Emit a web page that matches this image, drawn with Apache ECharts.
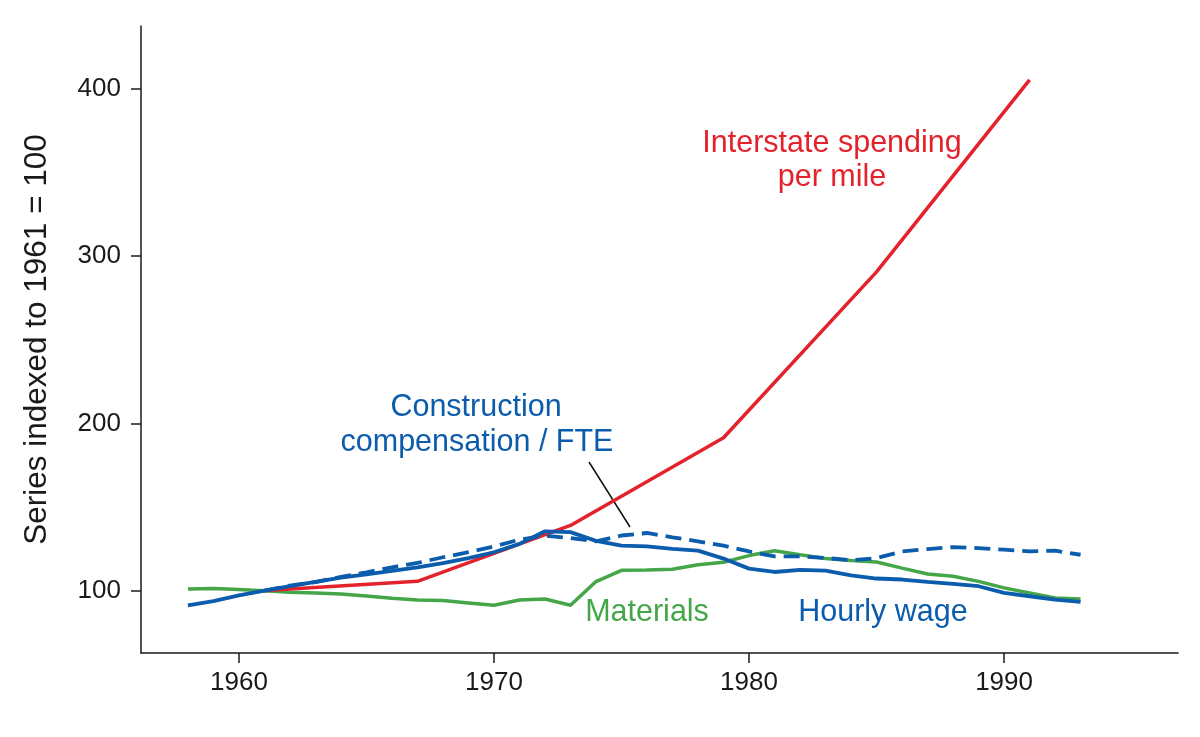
<!DOCTYPE html>
<html>
<head>
<meta charset="utf-8">
<script src="https://cdn.jsdelivr.net/npm/echarts@6/dist/echarts.min.js"></script>
<style>html,body{margin:0;padding:0;background:#fff;}#c{width:1200px;height:737px;}</style>
</head>
<body>
<div id="c"></div>
<script>
const years = [1958,1959,1960,1961,1962,1963,1964,1965,1966,1967,1968,1969,1970,1971,1972,1973,1974,1975,1976,1977,1978,1979,1980,1981,1982,1983,1984,1985,1986,1987,1988,1989,1990,1991,1992,1993];
const hourlyWage = [91.2,93.8,97.2,100,102.8,105.3,107.8,109.8,111.8,114,116.5,119.5,123,128,135.5,135,129.8,127,126.5,125,124,119.2,113.2,111.2,112.5,112,109.2,107.3,106.7,105.3,104.1,102.7,98.7,96.7,94.7,93.3];
const materials = [101,101.4,100.8,100,99.1,98.7,98.1,96.9,95.5,94.5,94.1,92.7,91.3,94.5,95.1,91.3,105.5,112.2,112.4,112.8,115.5,117,121,123.9,121.5,119.2,118,117.2,113.5,110,108.6,105.6,101.7,98.7,95.7,95.1];
const compYears = [1961,1962,1963,1964,1965,1966,1967,1968,1969,1970,1971,1972,1973,1974,1975,1976,1977,1978,1979,1980,1981,1982,1983,1984,1985,1986,1987,1988,1989,1990,1991,1992,1993];
const compPerFTE = [100,103.1,105.1,108.3,111,114,116.6,120,123,126.5,130.5,132.9,131.5,129.5,133,134.5,131.9,129.5,126.9,123.5,120.5,120.5,119.6,118.2,119.5,123.5,124.9,126.1,125.5,124.5,123.5,123.9,121.5];
const interstateYears = [1961,1962,1967,1973,1979,1985,1991];
const interstatePerMile = [100,101,105.6,139,191.4,290.5,405.2];
const xTicks = [1960,1970,1980,1990];
const yTicks = [100,200,300,400];

const RED = '#e4222b', BLUE = '#0b5cac', GREEN = '#44a648';
const FONT = '"Liberation Sans", Arial, Helvetica, sans-serif';
const AFONT = '30.5px ' + FONT;
const pairs = (xs, ys) => xs.map((x, i) => [x, ys[i]]);

const chart = echarts.init(document.getElementById('c'));
chart.setOption({
  animation: false,
  backgroundColor: '#fff',
  grid: { left: 141, right: 22, top: 26, bottom: 84 },
  xAxis: {
    type: 'value', min: 1956.16, max: 1996.82,
    splitLine: { show: false },
    axisLine: { lineStyle: { color: '#1a1a1a', width: 1.5 } },
    axisTick: { customValues: xTicks, length: 10, lineStyle: { color: '#1a1a1a', width: 1.5 } },
    axisLabel: { customValues: xTicks, formatter: v => String(v), fontSize: 26, color: '#1a1a1a', fontFamily: FONT, margin: 17 }
  },
  yAxis: {
    type: 'value', min: 62.8, max: 437.4,
    name: 'Series indexed to 1961 = 100', nameLocation: 'middle', nameGap: 88,
    nameTextStyle: { fontSize: 31.5, color: '#1a1a1a', fontFamily: FONT },
    splitLine: { show: false },
    axisLine: { show: true, lineStyle: { color: '#1a1a1a', width: 1.5 } },
    axisTick: { show: true, customValues: yTicks, length: 10, lineStyle: { color: '#1a1a1a', width: 1.5 } },
    axisLabel: { customValues: yTicks, fontSize: 26, color: '#1a1a1a', fontFamily: FONT, margin: 20 }
  },
  series: [
    { name: 'Materials', type: 'line', data: pairs(years, materials), symbol: 'none',
      lineStyle: { color: GREEN, width: 3.5 } },
    { name: 'Interstate spending per mile', type: 'line', data: pairs(interstateYears, interstatePerMile), symbol: 'none',
      lineStyle: { color: RED, width: 3.5 } },
    { name: 'Construction compensation / FTE', type: 'line', data: pairs(compYears, compPerFTE), symbol: 'none',
      lineStyle: { color: BLUE, width: 3.8, type: [16, 8] } },
    { name: 'Hourly wage', type: 'line', data: pairs(years, hourlyWage), symbol: 'none',
      lineStyle: { color: BLUE, width: 3.8 } }
  ],
  graphic: [
    { type: 'text', style: { text: 'Interstate spending', x: 832, y: 144, textAlign: 'center', textVerticalAlign: 'middle', fill: RED, font: AFONT } },
    { type: 'text', style: { text: 'per mile', x: 832, y: 178, textAlign: 'center', textVerticalAlign: 'middle', fill: RED, font: AFONT } },
    { type: 'text', style: { text: 'Construction', x: 476, y: 408, textAlign: 'center', textVerticalAlign: 'middle', fill: BLUE, font: AFONT } },
    { type: 'text', style: { text: 'compensation / FTE', x: 477, y: 443, textAlign: 'center', textVerticalAlign: 'middle', fill: BLUE, font: AFONT } },
    { type: 'text', style: { text: 'Materials', x: 647, y: 613, textAlign: 'center', textVerticalAlign: 'middle', fill: GREEN, font: AFONT } },
    { type: 'text', style: { text: 'Hourly wage', x: 883, y: 613, textAlign: 'center', textVerticalAlign: 'middle', fill: BLUE, font: AFONT } },
    { type: 'line', shape: { x1: 589, y1: 462, x2: 630, y2: 527 }, style: { stroke: '#111', lineWidth: 1.5 } }
  ]
});
</script>
</body>
</html>
